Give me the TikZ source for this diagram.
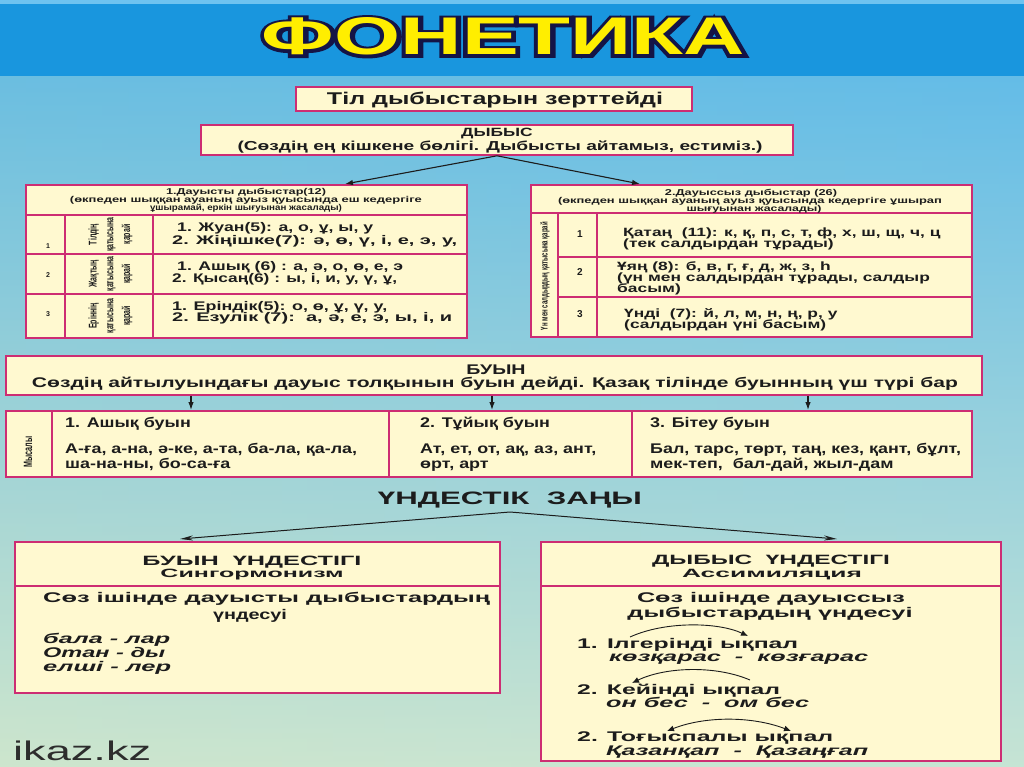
\documentclass[tikz,border=0pt]{standalone}
\usepackage{fontspec}
\setmainfont{Liberation Sans}
\newfontfamily\ttlout[FakeBold=11]{Liberation Sans Bold}
\usepackage{graphicx}
\usetikzlibrary{arrows.meta,calc}
\definecolor{boxfill}{RGB}{255,249,208}
\definecolor{boxline}{RGB}{205,45,115}
\definecolor{ink}{RGB}{28,28,28}
\definecolor{band}{RGB}{25,150,222}
\definecolor{bandtop}{RGB}{110,195,240}
\definecolor{navy}{RGB}{20,20,70}
\definecolor{ttl}{RGB}{255,238,0}
\definecolor{bgA}{RGB}{95,185,230}
\definecolor{bgB}{RGB}{175,224,226}
\definecolor{bgC}{RGB}{246,246,200}
\definecolor{edgeL}{RGB}{130,200,215}
\definecolor{edgeM}{RGB}{255,250,205}
\definecolor{edgeR}{RGB}{110,195,235}
\definecolor{logo}{RGB}{45,45,45}
\newcommand\W[2]{\resizebox{#1pt}{\height}{#2}}
\newcommand\X[2]{\scalebox{#1}[1]{#2}}
\newcommand\fsz[1]{\fontsize{#1}{#1}\selectfont\bfseries}
\begin{document}
\begin{tikzpicture}[x=1pt,y=-1pt,
  box/.style={draw=boxline,line width=1.6pt,fill=boxfill,rectangle,inner sep=0pt},
  grid/.style={draw=boxline,line width=1.3pt},
  t/.style={inner sep=0pt,text=ink,anchor=base},
  tl/.style={inner sep=0pt,text=ink,anchor=base west},
  rot/.style={inner sep=0pt,text=ink,rotate=90},
  arr/.style={draw=ink,line width=1.1pt,-{Latex[length=8pt,width=5.5pt]}},
  arrlong/.style={draw=ink,line width=1pt,-{Stealth[length=13pt,width=5pt]}},
  arrc/.style={draw=ink,line width=0.9pt,-{Latex[length=7pt,width=6pt]}},
  arrcc/.style={draw=ink,line width=0.9pt,{Latex[length=7pt,width=6pt]}-{Latex[length=7pt,width=6pt]}}]
\useasboundingbox (0,0) rectangle (1024,767);
% background
\shade[top color=bgA,middle color=bgB,bottom color=bgC] (0,76) rectangle (1024,767);
\shade[left color=edgeL,middle color=edgeM,right color=edgeR,opacity=0.35] (0,76) rectangle (1024,767);
\fill[band] (0,0) rectangle (1024,76);
\fill[bandtop] (0,0) rectangle (1024,4);
% title: dark stroked copy behind a yellow copy
\node[inner sep=0pt,anchor=base,text=navy] (titleout) at (503.5,55) {\ttlout\fontsize{53}{53}\selectfont\W{483}{ФОНЕТИКА}};
\node[inner sep=0pt,anchor=base,text=ttl] (title) at (503.5,55) {\fsz{53}\W{483}{ФОНЕТИКА}};
% box 1
\node[box,minimum width=396pt,minimum height=24pt] (b1) at (494,99) {};
\node[t] (b1t) at (495,105) {\fsz{17}\W{336}{Тіл дыбыстарын зерттейді}};
% box 2
\node[box,minimum width=592pt,minimum height=30pt] (b2) at (497,140) {};
\node[t] (b2a) at (497,137) {\fsz{12}\X{1.45}{ДЫБЫС}};
\node[t] (b2b) at (500,150.5) {\fsz{13}\W{525}{(Сөздің ең кішкене бөлігі. Дыбысты айтамыз, естиміз.)}};
% left table
\node[box,minimum width=441pt,minimum height=153pt] (lt) at (246.5,261.5) {};
\draw[grid] (26,215) -- (467,215);
\draw[grid] (26,254) -- (467,254);
\draw[grid] (26,294) -- (467,294);
\draw[grid] (65,215) -- (65,338);
\draw[grid] (153,215) -- (153,338);
\node[t] (lh1) at (246,195) {\fsz{8.5}\W{160}{1.Дауысты дыбыстар(12)}};
\node[t] (lh2) at (246,203) {\fsz{8.5}\W{352}{(өкпеден шыққан ауаның ауыз қуысында еш кедергіге}};
\node[t] (lh3) at (246,211) {\fsz{8.5}\W{192}{ұшырамай, еркін шығуынан жасалады)}};
\node[t] (ln1) at (48,248) {\fsz{7}1};
\node[t] (ln2) at (48,277) {\fsz{7}2};
\node[t] (ln3) at (48,316) {\fsz{7}3};
\node[rot] (lr1) at (110,234.5) {\fontsize{7}{10.5}\selectfont\bfseries\scalebox{1}[1.6]{\begin{tabular}{@{}c@{}}Тілдің\\қатысына\\қарай\end{tabular}}};
\node[rot] (lr2) at (110,274) {\fontsize{7}{10.5}\selectfont\bfseries\scalebox{1}[1.6]{\begin{tabular}{@{}c@{}}Жақтың\\қатысына\\қарай\end{tabular}}};
\node[rot] (lr3) at (110,316) {\fontsize{7}{10.5}\selectfont\bfseries\scalebox{1}[1.6]{\begin{tabular}{@{}c@{}}Еріннің\\қатысына\\қарай\end{tabular}}};
\node[tl] (l11) at (177,232) {\fsz{12.5}\W{196}{1. Жуан(5): а, о, ұ, ы, у}};
\node[tl] (l12) at (172,244) {\fsz{12.5}\W{285}{2. Жіңішке(7): ә, ө, ү, і, е, э, у,}};
\node[tl] (l21) at (177,270) {\fsz{12.5}\W{226}{1. Ашық (6) : а, ә, о, ө, е, э}};
\node[tl] (l22) at (172,282) {\fsz{12.5}\W{225}{2. Қысаң(6) : ы, і, и, у, ү, ұ,}};
\node[tl] (l31) at (172,310) {\fsz{12.5}\W{215}{1. Еріндік(5): о, ө, ұ, ү, у,}};
\node[tl] (l32) at (172,321) {\fsz{12.5}\W{280}{2. Езулік (7):\ \ а, ә, е, э, ы, і, и}};
% right table
\node[box,minimum width=441pt,minimum height=152pt] (rt) at (751.5,261) {};
\draw[grid] (531,213) -- (972,213);
\draw[grid] (558,257) -- (972,257);
\draw[grid] (558,297) -- (972,297);
\draw[grid] (558,213) -- (558,337);
\draw[grid] (597,213) -- (597,337);
\node[t] (rh1) at (751,196) {\fsz{8.5}\W{172}{2.Дауыссыз дыбыстар (26)}};
\node[t] (rh2) at (750,204) {\fsz{8.5}\W{384}{(өкпеден шыққан ауаның ауыз қуысында кедергіге ұшырап}};
\node[t] (rh3) at (754,211.5) {\fsz{8.5}\W{135}{шығуынан жасалады)}};
\node[rot] (rr) at (545,276) {\fsz{6.5}\scalebox{1}[1.5]{\W{108}{Үн мен салдырдың қатысына қарай}}};
\node[t] (rn1) at (580,237) {\fsz{10}1};
\node[t] (rn2) at (580,275) {\fsz{10}2};
\node[t] (rn3) at (580,317) {\fsz{10}3};
\node[tl] (r11) at (623,236.5) {\fsz{12}\X{1.45}{Қатаң\ \ (11): к, қ, п, с, т, ф, х, ш, щ, ч, ц}};
\node[tl] (r12) at (623,247.5) {\fsz{12}\X{1.45}{(тек салдырдан тұрады)}};
\node[tl] (r21) at (617,270.5) {\fsz{12}\X{1.45}{Ұяң (8): б, в, г, ғ, д, ж, з, һ}};
\node[tl] (r22) at (617,281.5) {\fsz{12}\X{1.45}{(үн мен салдырдан тұрады, салдыр}};
\node[tl] (r23) at (617,292) {\fsz{12}\X{1.45}{басым)}};
\node[tl] (r31) at (624,317) {\fsz{12}\X{1.45}{Үнді\ \ (7): й, л, м, н, ң, р, у}};
\node[tl] (r32) at (624,328) {\fsz{12}\X{1.45}{(салдырдан үні басым)}};
% arrows from box 2
\coordinate (la) at (345,184);
\coordinate (ra) at (640,184);
\draw[arr] (b2.south) -- (la);
\draw[arr] (b2.south) -- (ra);
% syllable box
\node[box,minimum width=976pt,minimum height=39pt] (sb) at (494,375.5) {};
\node[t] (sba) at (496,374) {\fsz{14}\X{1.4}{БУЫН}};
\node[t] (sbb) at (495,387) {\fsz{14}\W{926}{Сөздің айтылуындағы дауыс толқынын буын дейді. Қазақ тілінде буынның үш түрі бар}};
\coordinate (e1) at (191,410);
\coordinate (e2) at (492,410);
\coordinate (e3) at (808,410);
\draw[arr] (sb.south -| e1) -- (e1);
\draw[arr] (sb.south -| e2) -- (e2);
\draw[arr] (sb.south -| e3) -- (e3);
% examples table
\node[box,minimum width=966pt,minimum height=66pt] (ex) at (489,444) {};
\draw[grid] (52,411) -- (52,477);
\draw[grid] (389,411) -- (389,477);
\draw[grid] (632,411) -- (632,477);
\node[rot] (mys) at (28,452) {\fsz{7.5}\scalebox{1}[1.6]{\W{31}{Мысалы}}};
\node[tl] (x11) at (65,427) {\fsz{14}\X{1.28}{1. Ашық буын}};
\node[tl] (x12) at (65,453) {\fsz{14}\X{1.28}{А-ға, а-на, ә-ке, а-та, ба-ла, қа-ла,}};
\node[tl] (x13) at (65,468) {\fsz{14}\X{1.28}{ша-на-ны, бо-са-ға}};
\node[tl] (x21) at (420,427) {\fsz{14}\X{1.28}{2. Тұйық буын}};
\node[tl] (x22) at (420,453) {\fsz{14}\X{1.28}{Ат, ет, от, ақ, аз, ант,}};
\node[tl] (x23) at (420,468) {\fsz{14}\X{1.28}{өрт, арт}};
\node[tl] (x31) at (650,427) {\fsz{14}\X{1.28}{3. Бітеу буын}};
\node[tl] (x32) at (650,453) {\fsz{14}\X{1.28}{Бал, тарс, төрт, таң, кез, қант, бұлт,}};
\node[tl] (x33) at (650,468) {\fsz{14}\X{1.28}{мек-теп,\ \ бал-дай, жыл-дам}};
% harmony law
\node[t] (law) at (510,504.5) {\fsz{18}\W{264}{ҮНДЕСТІК\ \ ЗАҢЫ}};
\coordinate (apex) at (510,512);
\coordinate (lbt) at (180,539);
\coordinate (rbt) at (837,539);
\draw[arrlong] (apex) -- (lbt);
\draw[arrlong] (apex) -- (rbt);
% left bottom box
\node[box,minimum width=485pt,minimum height=151pt] (lb) at (257.5,617.5) {};
\draw[grid] (15,586) -- (500,586);
\node[t] (lba) at (252,565) {\fsz{13.5}\W{219}{БУЫН\ \ ҮНДЕСТІГІ}};
\node[t] (lbb) at (252,577) {\fsz{12}\W{183}{Сингормонизм}};
\node[tl] (lbc) at (43,602) {\fsz{14}\W{447}{Сөз ішінде дауысты дыбыстардың}};
\node[t] (lbd) at (250,619) {\fsz{14}\W{74}{үндесуі}};
\node[tl] (lbe) at (43,643) {\fsz{14}\itshape\W{127}{бала - лар}};
\node[tl] (lbf) at (43,657) {\fsz{14}\itshape\W{122}{Отан - ды}};
\node[tl] (lbg) at (43,671) {\fsz{14}\itshape\W{128}{елші - лер}};
% right bottom box
\node[box,minimum width=460pt,minimum height=219pt] (rb) at (771,651.5) {};
\draw[grid] (541,586) -- (1001,586);
\node[t] (rba) at (771,564) {\fsz{13.5}\W{238}{ДЫБЫС\ \ ҮНДЕСТІГІ}};
\node[t] (rbb) at (772,577) {\fsz{12}\W{180}{Ассимиляция}};
\node[t] (rbc) at (771,602) {\fsz{14}\W{268}{Сөз ішінде дауыссыз}};
\node[t] (rbd) at (770,617) {\fsz{14}\W{285}{дыбыстардың үндесуі}};
\node[tl] (rbe) at (577,648) {\fsz{14}\W{221}{1. Ілгерінді ықпал}};
\node[tl] (rbf) at (609,661) {\fsz{14}\itshape\W{259}{көзқарас\ \ -\ \ көзғарас}};
\node[tl] (rbg) at (577,694) {\fsz{14}\W{203}{2. Кейінді ықпал}};
\node[tl] (rbh) at (606,707) {\fsz{14}\itshape\W{203}{он бес\ \ -\ \ ом бес}};
\node[tl] (rbi) at (577,741) {\fsz{14}\W{256}{2. Тоғыспалы ықпал}};
\node[tl] (rbj) at (606,755) {\fsz{14}\itshape\W{262}{Қазанқап\ \ -\ \ Қазаңғап}};
\coordinate (c1a) at (630,637);
\coordinate (c1b) at (748,636);
\draw[arrc] (c1a) .. controls (665,621) and (718,622) .. (c1b);
\coordinate (c2a) at (750,680);
\coordinate (c2b) at (632,683);
\draw[arrc] (c2a) .. controls (715,665) and (665,667) .. (c2b);
\coordinate (c3a) at (667,731);
\coordinate (c3b) at (791,731);
\draw[arrcc] (c3a) .. controls (705,716) and (752,716) .. (c3b);
% logo
\node[inner sep=0pt,anchor=base west,text=logo] (logo) at (13,760) {\fontsize{27}{27}\selectfont\W{138}{ikaz.kz}};
\end{tikzpicture}
\end{document}
